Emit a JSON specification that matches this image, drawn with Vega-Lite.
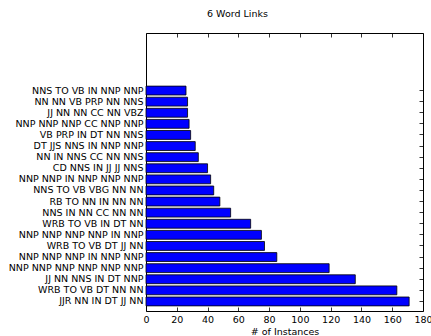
{
  "$schema": "https://vega.github.io/schema/vega-lite/v6.json",
  "width": 277,
  "height": 278,
  "autosize": {"type": "none"},
  "padding": {"left": 146, "top": 33, "right": 8, "bottom": 25},
  "background": "white",
  "title": {"text": "6 Word Links", "font": "DejaVu Sans", "fontSize": 9.5, "fontWeight": "normal", "color": "black", "anchor": "middle", "dx": -47, "offset": 14},
  "config": {
    "view": {"stroke": "black", "strokeWidth": 1},
    "axis": {"domain": false, "grid": false, "labelFont": "DejaVu Sans", "labelFontSize": 9.5, "labelColor": "black", "tickColor": "black", "tickSize": -4, "tickWidth": 0.8, "titleFont": "DejaVu Sans", "titleFontSize": 9.5, "titleFontWeight": "normal", "titleColor": "black", "labelFlush": false, "labelOverlap": false, "labelBound": false}
  },
  "data": {"values": [
    {"pattern": "NNS TO VB IN NNP NNP", "count": 26},
    {"pattern": "NN NN VB PRP NN NNS", "count": 27},
    {"pattern": "JJ NN NN CC NN VBZ", "count": 27},
    {"pattern": "NNP NNP NNP CC NNP NNP", "count": 28},
    {"pattern": "VB PRP IN DT NN NNS", "count": 29},
    {"pattern": "DT JJS NNS IN NNP NNP", "count": 32},
    {"pattern": "NN IN NNS CC NN NNS", "count": 34},
    {"pattern": "CD NNS IN JJ JJ NNS", "count": 40},
    {"pattern": "NNP NNP IN NNP NNP NNP", "count": 42},
    {"pattern": "NNS TO VB VBG NN NN", "count": 44},
    {"pattern": "RB TO NN IN NN NN", "count": 48},
    {"pattern": "NNS IN NN CC NN NN", "count": 55},
    {"pattern": "WRB TO VB IN DT NN", "count": 68},
    {"pattern": "NNP NNP NNP NNP IN NNP", "count": 75},
    {"pattern": "WRB TO VB DT JJ NN", "count": 77},
    {"pattern": "NNP NNP NNP IN NNP NNP", "count": 85},
    {"pattern": "NNP NNP NNP NNP NNP NNP", "count": 119},
    {"pattern": "JJ NN NNS IN DT NNP", "count": 136},
    {"pattern": "WRB TO VB DT NN NN", "count": 163},
    {"pattern": "JJR NN IN DT JJ NN", "count": 171}
  ]},
  "layer": [
    {
      "mark": {"type": "bar", "color": "#0000ff", "stroke": "black", "strokeWidth": 0.8},
      "encoding": {
        "x": {"field": "count", "type": "quantitative", "scale": {"domain": [0, 180], "nice": false},
              "axis": {"orient": "bottom", "values": [0,20,40,60,80,100,120,140,160,180], "title": "# of Instances", "labelPadding": 7, "titlePadding": 3}},
        "y": {"field": "pattern", "type": "nominal", "sort": null,
              "scale": {"range": [52, 274], "paddingInner": 0.2, "paddingOuter": 0.1},
              "axis": {"orient": "left", "title": null, "labelPadding": 7}}
      }
    },
    {
      "mark": {"type": "bar", "opacity": 0},
      "encoding": {
        "x": {"field": "count", "type": "quantitative", "axis": {"orient": "top", "values": [0,20,40,60,80,100,120,140,160,180], "labels": false, "title": null}},
        "y": {"field": "pattern", "type": "nominal", "sort": null, "axis": {"orient": "right", "labels": false, "title": null}}
      }
    }
  ],
  "resolve": {"axis": {"x": "independent", "y": "independent"}}
}
